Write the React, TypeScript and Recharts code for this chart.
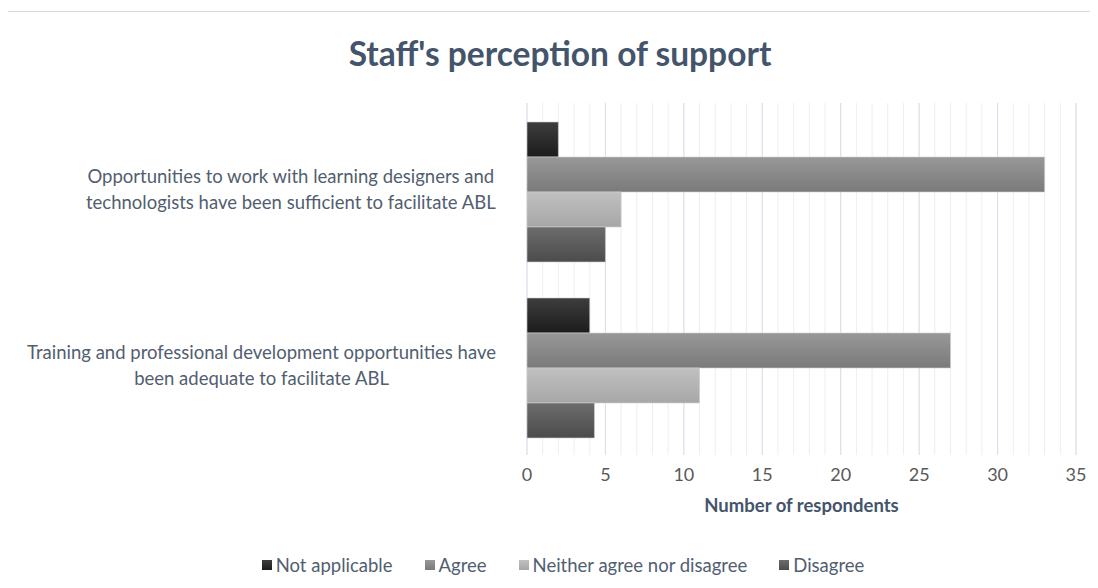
import React from "react";
import { BarChart, Bar, XAxis, YAxis, CartesianGrid } from "recharts";

const categories = [
  "Opportunities to work with learning designers and\ntechnologists have been sufficient to facilitate ABL",
  "Training and professional development opportunities have\nbeen adequate to facilitate ABL",
];
const seriesNames = ["Not applicable", "Agree", "Neither agree nor disagree", "Disagree"];
const notApplicable = [2, 4];
const agree = [33, 27];
const neither = [6, 11];
const disagree = [5, 4.3];
const xDomain = [0, 35];
const majorTicks = [0, 5, 10, 15, 20, 25, 30, 35];
const minorTicks = Array.from({ length: 36 }, (_, i) => i);

const seriesValues = [notApplicable, agree, neither, disagree];
const gradients = [
  ["#3d3d3d", "#1c1c1c"],
  ["#989898", "#7a7a7a"],
  ["#c0c0c0", "#a7a7a7"],
  ["#6c6c6c", "#4c4c4c"],
];
const keys = ["na", "agree", "neither", "disagree"];

const data = categories.map((name, i) => {
  const row: Record<string, string | number> = { name };
  keys.forEach((k, j) => (row[k] = seriesValues[j][i]));
  return row;
});

const FONT = "Lato, 'Open Sans', sans-serif";
const LABEL_COLOR = "#525e70";
const LABEL_SIZE = 18.5;

let ctx: CanvasRenderingContext2D | null = null;
const measure = (s: string) => {
  if (!ctx) ctx = document.createElement("canvas").getContext("2d");
  if (!ctx) return s.length * 9;
  ctx.font = `${LABEL_SIZE}px Lato`;
  return ctx.measureText(s).width;
};

const CategoryTick = (props: any) => {
  const { x, y, payload } = props;
  const lines = String(payload.value).split("\n");
  const w = Math.max(...lines.map(measure));
  const cx = x - w / 2;
  return (
    <text x={cx} y={y} textAnchor="middle" fill={LABEL_COLOR} fontSize={LABEL_SIZE} fontFamily={FONT}>
      {lines.map((l, i) => (
        <tspan key={i} x={cx} dy={i === 0 ? -8 : 26}>
          {l}
        </tspan>
      ))}
    </text>
  );
};

// grid line positions from the x axis scale (fallback: linear over plot area)
const gridAt = (ticks: number[]) => (props: any) => {
  const scale = props?.xAxis?.scale;
  if (scale && typeof scale === "function") return ticks.map((t) => scale(t));
  const { left, width } = props.offset;
  return ticks.map((t) => left + ((t - xDomain[0]) / (xDomain[1] - xDomain[0])) * width);
};

export default function App() {
  return (
    <div style={{ position: "relative", width: 1090, height: 580, fontFamily: FONT }}>
      <div
        style={{
          position: "absolute",
          left: -1,
          top: 3,
          width: 1100,
          height: 600,
          borderTop: "1px solid #d9d9d9",
          borderLeft: "1px solid #d9d9d9",
        }}
      />
      <div
        style={{
          position: "absolute",
          left: 0,
          width: 1104,
          top: 25,
          textAlign: "center",
          fontSize: 33.5,
          fontWeight: 700,
          color: "#44546a",
        }}
      >
        Staff's perception of support
      </div>
      <BarChart
        width={1090}
        height={580}
        data={data}
        layout="vertical"
        margin={{ top: 95, right: 22, left: 0, bottom: 93 }}
        barCategoryGap={19}
        barGap={0}
        style={{ position: "absolute", left: 0, top: 0 }}
      >
        <defs>
          {keys.map((k, i) => (
            <linearGradient key={k} id={`g-${k}`} x1="0" y1="0" x2="0" y2="1">
              <stop offset="0%" stopColor={gradients[i][0]} />
              <stop offset="100%" stopColor={gradients[i][1]} />
            </linearGradient>
          ))}
        </defs>
        <CartesianGrid
          horizontal={false}
          stroke="#eceef3"
          strokeWidth={1}
          verticalCoordinatesGenerator={gridAt(minorTicks)}
        />
        <CartesianGrid
          horizontal={false}
          stroke="#d9dee8"
          strokeWidth={1}
          verticalCoordinatesGenerator={gridAt(majorTicks)}
        />
        <XAxis
          type="number"
          domain={xDomain}
          ticks={majorTicks}
          interval={0}
          axisLine={false}
          tickLine={false}
          tickSize={0}
          tickMargin={13}
          tick={{ fill: "#595959", fontSize: 18, fontFamily: FONT }}
          height={40}
          label={{
            value: "Number of respondents",
            position: "bottom",
            offset: 4,
            fill: "#44546a",
            fontSize: 18.5,
            fontWeight: 700,
            fontFamily: FONT,
          }}
        />
        <YAxis
          type="category"
          dataKey="name"
          width={519}
          axisLine={false}
          tickLine={false}
          tickSize={0}
          tickMargin={31}
          tick={<CategoryTick />}
        />
        {keys.map((k, i) => (
          <Bar
            key={k}
            dataKey={k}
            name={seriesNames[i]}
            fill={`url(#g-${k})`}
            stroke="#d0d0d0"
            strokeWidth={0.6}
            isAnimationActive={false}
          />
        ))}
      </BarChart>
      <div
        style={{
          position: "absolute",
          top: 546,
          left: 0,
          width: 1110,
          display: "flex",
          justifyContent: "center",
          gap: 32,
          fontSize: 18.5,
          color: LABEL_COLOR,
        }}
      >
        {seriesNames.map((n, i) => (
          <div key={n} style={{ display: "flex", alignItems: "center", gap: 4 }}>
            <span
              style={{
                display: "inline-block",
                width: 10,
                height: 10,
                background: `linear-gradient(${gradients[i][0]}, ${gradients[i][1]})`,
              }}
            />
            <span>{n}</span>
          </div>
        ))}
      </div>
    </div>
  );
}
